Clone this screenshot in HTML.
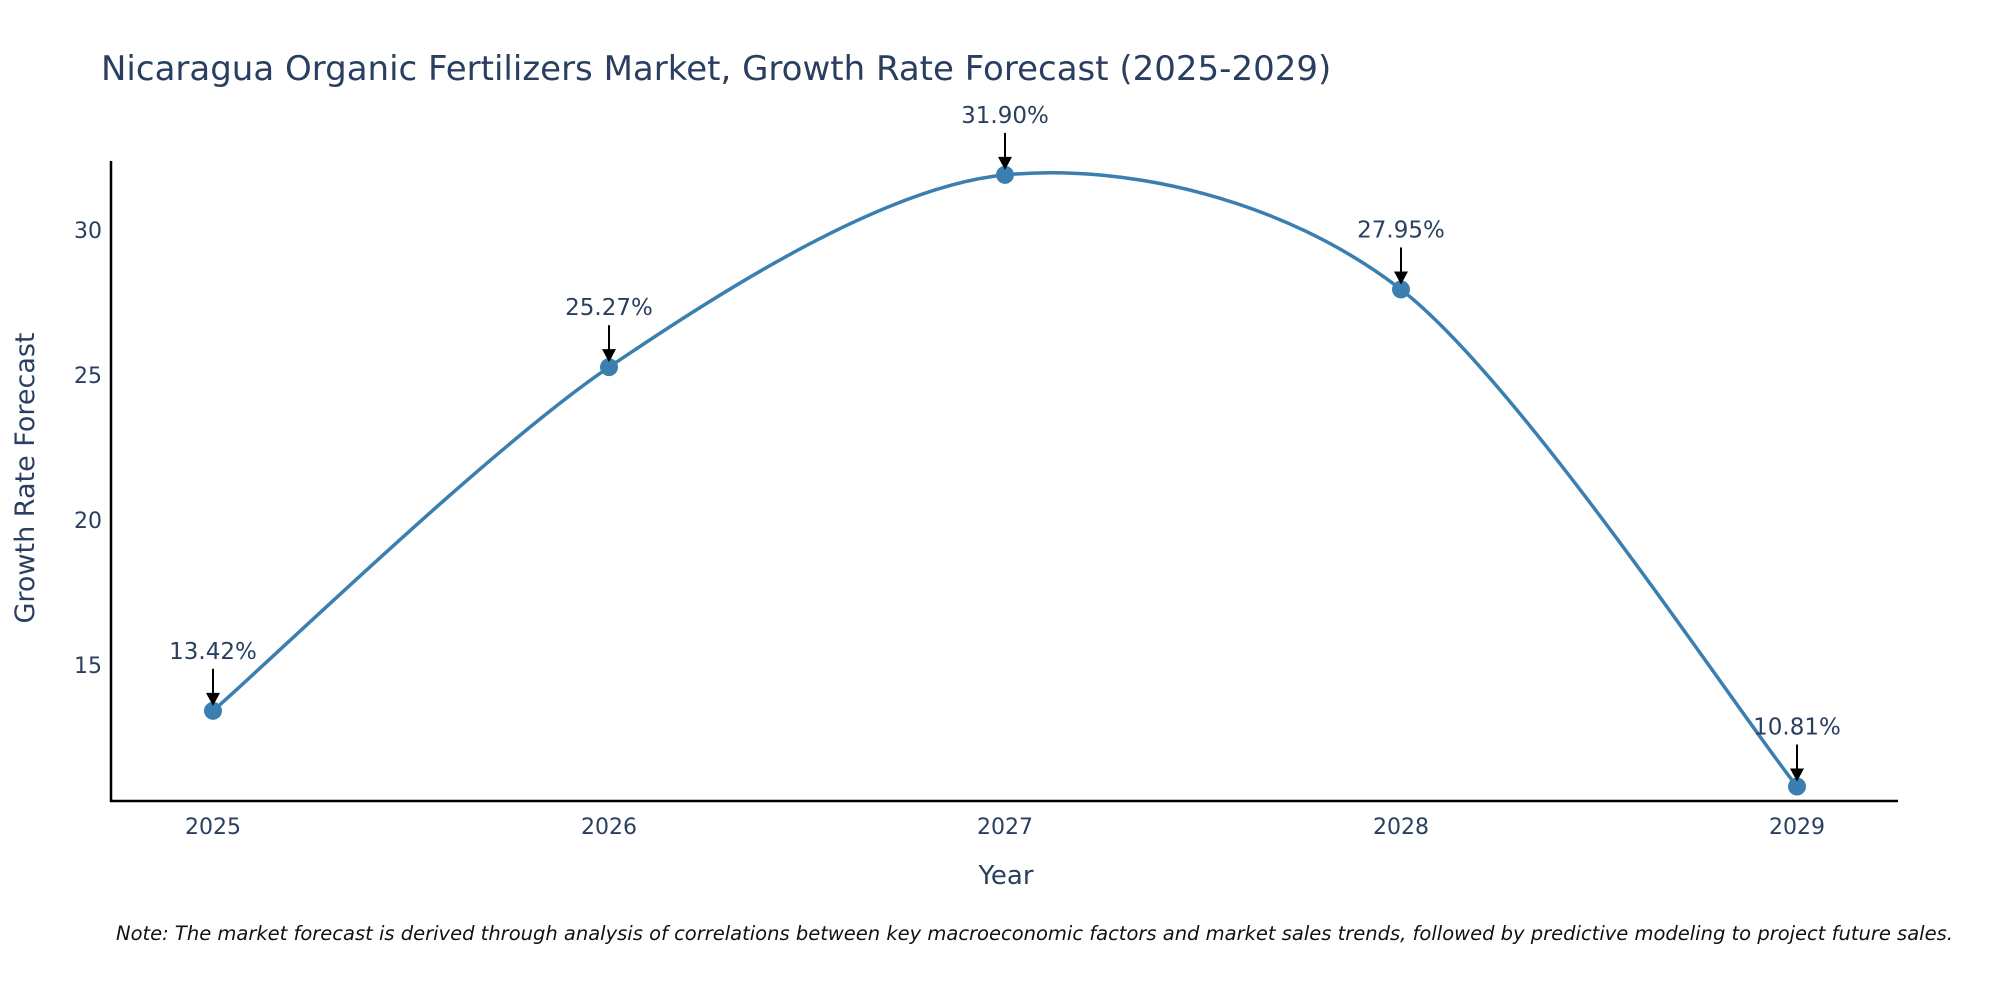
<!DOCTYPE html>
<html><head><meta charset="utf-8"><style>
html,body{margin:0;padding:0;background:#fff;width:2000px;height:1000px;overflow:hidden}
svg{font-family:"DejaVu Sans","Liberation Sans",sans-serif}
</style></head><body>
<svg id="chart" width="2000" height="1000" viewBox="0 0 2000 1000">
<text x="101" y="80" font-size="34" fill="#2a3f5f">Nicaragua Organic Fertilizers Market, Growth Rate Forecast (2025-2029)</text>
<line x1="111" y1="161" x2="111" y2="802" stroke="#000" stroke-width="2.5"/>
<line x1="110" y1="801" x2="1898" y2="801" stroke="#000" stroke-width="2.5"/>
<g id="yticks"></g>
<g id="xticks"></g>
<path id="line" fill="none" stroke="#3a7fb0" stroke-width="3.5"/>
<g id="points"></g>
<g id="annots"></g>
<text x="1006" y="884" font-size="26" fill="#2a3f5f" text-anchor="middle">Year</text>
<text transform="translate(34,478) rotate(-90)" font-size="27" fill="#2a3f5f" text-anchor="middle">Growth Rate Forecast</text>
<text x="116" y="940" font-size="19.5" font-style="italic" fill="#111">Note: The market forecast is derived through analysis of correlations between key macroeconomic factors and market sales trends, followed by predictive modeling to project future sales.</text>
</svg>
<script>
const years = [2025, 2026, 2027, 2028, 2029];
const growth = [13.42, 25.27, 31.90, 27.95, 10.81];
const labels = ["13.42%", "25.27%", "31.90%", "27.95%", "10.81%"];
const yTicks = [15, 20, 25, 30];

const NS = "http://www.w3.org/2000/svg";
function xs(v){ return 213 + (v - 2025) * (1797 - 213) / 4; }
function ys(v){ return 665 - (v - 15) * (665 - 230) / 15; }
function mk(tag, attrs, parent, text){
  const e = document.createElementNS(NS, tag);
  for (const k in attrs) e.setAttribute(k, attrs[k]);
  if (text !== undefined) e.textContent = text;
  parent.appendChild(e); return e;
}
const yt = document.getElementById('yticks');
yTicks.forEach(t => {
  const e = mk('text', {x: 102, y: ys(t) + 8, 'font-size': 22, fill: '#2a3f5f', 'text-anchor': 'end'}, yt, String(t));
  
  
});
const xt = document.getElementById('xticks');
years.forEach(y => {
  const e = mk('text', {x: xs(y), y: 834, 'font-size': 22, fill: '#2a3f5f', 'text-anchor': 'middle'}, xt, String(y));
  
  
});
const P = years.map((y, i) => [xs(y), ys(growth[i])]);
let d = "M" + P[0][0] + "," + P[0][1];
const t = 0.15;
for (let i = 0; i < P.length - 1; i++) {
  const p0 = P[Math.max(0, i - 1)], p1 = P[i], p2 = P[i + 1], p3 = P[Math.min(P.length - 1, i + 2)];
  const c1 = [p1[0] + (p2[0] - p0[0]) * t, p1[1] + (p2[1] - p0[1]) * t];
  const c2 = [p2[0] - (p3[0] - p1[0]) * t, p2[1] - (p3[1] - p1[1]) * t];
  d += " C" + c1[0] + "," + c1[1] + " " + c2[0] + "," + c2[1] + " " + p2[0] + "," + p2[1];
}
document.getElementById('line').setAttribute('d', d);
const pts = document.getElementById('points');
const an = document.getElementById('annots');
P.forEach((p, i) => {
  const c = mk('circle', {cx: p[0], cy: p[1], r: 9, fill: '#3a7fb0'}, pts);
  
  
  const l = mk('line', {x1: p[0], y1: p[1] - 42, x2: p[0], y2: p[1] - 16, stroke: '#000', 'stroke-width': 2}, an);
  
  
  const h = mk('polygon', {points: (p[0]-7)+","+(p[1]-18)+" "+(p[0]+7)+","+(p[1]-18)+" "+p[0]+","+(p[1]-5), fill: '#000'}, an);
  
  
  const tx = mk('text', {x: p[0], y: p[1] - 52, 'font-size': 23, fill: '#2a3f5f', 'text-anchor': 'middle'}, an, labels[i]);
  
  
});
</script>
</body></html>
